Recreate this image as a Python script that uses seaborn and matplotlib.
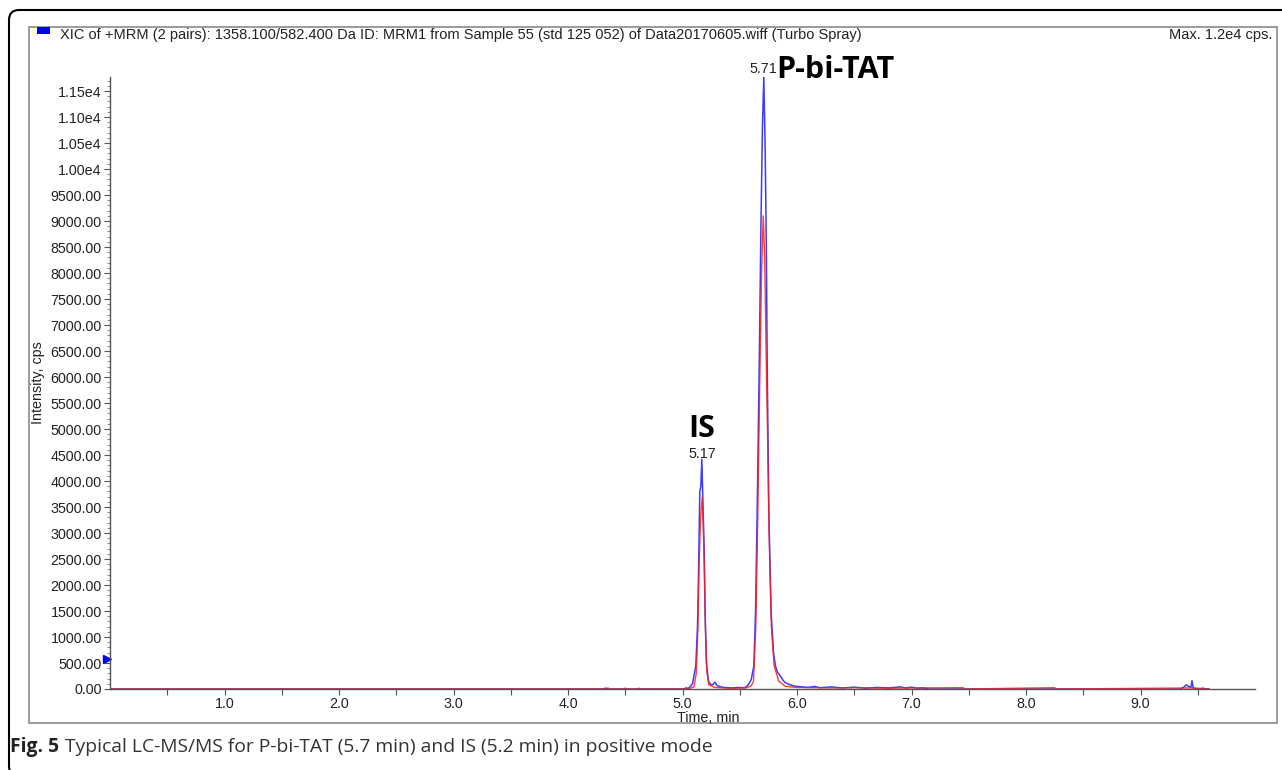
import numpy as np
import pandas as pd
import seaborn as sns
import matplotlib.pyplot as plt
from matplotlib.ticker import MultipleLocator, FuncFormatter, FixedLocator
from matplotlib.patches import Rectangle, FancyBboxPatch
from matplotlib.transforms import IdentityTransform

# XIC trace 1 (blue), time in min / intensity in cps
blue_time = [0.00, 4.30, 4.33, 4.36, 4.60, 4.62, 4.64, 5.00, 5.03, 5.058, 5.087, 5.116,
             5.131, 5.139, 5.151, 5.160, 5.169, 5.177, 5.189, 5.197, 5.209, 5.226, 5.245,
             5.261, 5.284, 5.300, 5.319, 5.36, 5.40, 5.435, 5.48, 5.52, 5.551, 5.580, 5.600,
             5.623, 5.638, 5.652, 5.670, 5.685, 5.698, 5.710, 5.722, 5.732, 5.740, 5.754,
             5.774, 5.795, 5.812, 5.830, 5.855, 5.88, 5.90, 5.94, 5.97, 6.00, 6.05, 6.10,
             6.15, 6.20, 6.30, 6.40, 6.50, 6.60, 6.70, 6.80, 6.90, 6.95, 7.00, 7.05, 7.10,
             7.15, 9.35, 9.38, 9.40, 9.42, 9.44, 9.45, 9.46, 9.50, 9.55, 9.57, 9.60]
blue_int = [0, 0, 15, 0, 0, 12, 0, 0, 10, 20, 100, 440,
            1200, 2100, 3790, 3900, 4420, 3700, 2700, 1480, 500, 150, 90,
            80, 130, 70, 50, 30, 25, 20, 30, 25, 30, 100, 180,
            440, 1480, 3380, 6200, 8900, 10800, 11770, 10400, 8500, 6200, 3400,
            1480, 700, 440, 320, 250, 160, 120, 80, 60, 50, 40, 30,
            50, 25, 40, 20, 35, 15, 30, 20, 40, 20, 35, 15, 20,
            0, 0, 40, 80, 50, 30, 160, 20, 0, 15, 0, 0]

# XIC trace 2 (red)
red_time = [0.00, 4.34, 4.35, 4.36, 4.49, 4.50, 4.51, 5.02, 5.03, 5.05, 5.10, 5.12,
            5.135, 5.145, 5.158, 5.172, 5.182, 5.192, 5.200, 5.212, 5.23, 5.28, 5.40,
            5.55, 5.60, 5.620, 5.640, 5.655, 5.672, 5.690, 5.705, 5.718, 5.730, 5.742,
            5.756, 5.776, 5.800, 5.84, 5.90, 6.00, 6.30, 6.50, 6.80, 7.00, 7.45, 7.47,
            8.25, 8.27, 9.45, 9.60]
red_int = [0, 0, 20, 0, 0, 20, 0, 0, 25, 0, 40, 300,
           1200, 2400, 3300, 3690, 3100, 2200, 1200, 350, 80, 30, 15,
           20, 60, 150, 1200, 3000, 5500, 8000, 9100, 8300, 6500, 5000,
           3000, 1200, 450, 150, 50, 30, 20, 25, 15, 20, 25, 0,
           25, 0, 20, 0]

peak_labels = ["5.17", "5.71"]
peak_names = ["IS", "P-bi-TAT"]

header = ("XIC of +MRM (2 pairs): 1358.100/582.400 Da ID: MRM1 from Sample 55 "
          "(std 125 052) of Data20170605.wiff (Turbo Spray)")

W, H = 1282, 770
sns.set_style("ticks")
plt.rcParams['font.family'] = ['Liberation Sans', 'DejaVu Sans']

fig = plt.figure(figsize=(W / 100, H / 100), dpi=100)
ax = fig.add_axes([110 / W, (H - 689) / H, (1255 - 110) / W, (689 - 77) / H])

df_blue = pd.DataFrame({"t": blue_time, "i": blue_int})
df_red = pd.DataFrame({"t": red_time, "i": red_int})
sns.lineplot(data=df_blue, x="t", y="i", ax=ax, color="#1a1aff", lw=1.1, alpha=0.85,
             sort=False, estimator=None)
sns.lineplot(data=df_red, x="t", y="i", ax=ax, color="#ff1a1a", lw=1.0, alpha=0.85,
             sort=False, estimator=None)

ax.set_xlim(0, 10)
ax.set_ylim(0, 11770)
ax.set_xlabel("")
ax.set_ylabel("")

for s in ["top", "right"]:
    ax.spines[s].set_visible(False)
for s in ["left", "bottom"]:
    ax.spines[s].set_color("#555555")
    ax.spines[s].set_linewidth(1.0)

ax.xaxis.set_major_locator(FixedLocator([1, 2, 3, 4, 5, 6, 7, 8, 9]))
ax.xaxis.set_major_formatter(FuncFormatter(lambda v, p: f"{v:.1f}"))
ax.xaxis.set_minor_locator(FixedLocator([0.5, 1.5, 2.5, 3.5, 4.5, 5.5, 6.5, 7.5, 8.5, 9.5]))
ax.yaxis.set_major_locator(MultipleLocator(500))
ax.yaxis.set_minor_locator(MultipleLocator(100))


def yfmt(v, p):
    if v >= 10000:
        return f"{v / 1e4:.2f}e4"
    return f"{v:.2f}"


ax.yaxis.set_major_formatter(FuncFormatter(yfmt))
ax.tick_params(axis="both", which="major", length=4, width=0.8, color="#555555",
               labelsize=10.3, labelcolor="#222222", pad=2)
ax.tick_params(axis="x", which="minor", length=4, width=0.8, color="#555555")
ax.tick_params(axis="y", which="minor", length=2, width=0.6, color="#777777")

# peak annotations
bold_font = ["Open Sans", "DejaVu Sans"]
ax.text(5.17, 4450, peak_labels[0], ha="center", va="baseline", fontsize=10.3, color="#222222")
ax.text(5.17, 4850, peak_names[0], ha="center", va="baseline", fontsize=22,
        fontweight="bold", family=bold_font, color="black")
ax.text(5.71, 11840, peak_labels[1], ha="center", va="baseline", fontsize=10.3,
        color="#222222", clip_on=False)
ax.text(5.815, 11750, peak_names[1], ha="left", va="baseline", fontsize=22,
        fontweight="bold", family=bold_font, color="black", clip_on=False)

# small blue marker on the y axis
ax.plot(-0.026, 580, marker=">", color="#0000ff", markersize=6, clip_on=False)

# frames
ident = IdentityTransform()
fig.patches.append(FancyBboxPatch((9, -6), 1310, 766, boxstyle="round,pad=0,rounding_size=10",
                                  fill=False, lw=1.5, ec="black", transform=ident))
fig.patches.append(Rectangle((29, H - 723), 1248, 696, fill=False, lw=1.2, ec="#8a8a8a",
                             transform=ident))
fig.patches.append(Rectangle((37, H - 34), 13, 7, fc="#0000ff", ec="none", transform=ident))

fig.text(60 / W, 1 - 35 / H, header, fontsize=10.5, va="center", ha="left", color="#222222")
fig.text(1272 / W, 1 - 35 / H, "Max. 1.2e4 cps.", fontsize=10.5, va="center", ha="right",
         color="#222222")
fig.text(38 / W, 1 - 383 / H, "Intensity, cps", fontsize=10.3, rotation=90, va="center",
         ha="center", color="#222222")
fig.text(708 / W, 1 - 718 / H, "Time, min", fontsize=10.3, va="center", ha="center",
         color="#222222")

# caption
cap_font = ["Open Sans", "DejaVu Sans"]
t1 = fig.text(10 / W, 1 - 747 / H, "Fig. 5", fontsize=13.9, fontweight="bold",
              va="center", ha="left", family=cap_font, color="#222222")
r = fig.canvas.get_renderer()
bb = t1.get_window_extent(renderer=r)
fig.text((bb.x1 + 6) / W, 1 - 747 / H,
         "Typical LC-MS/MS for P-bi-TAT (5.7 min) and IS (5.2 min) in positive mode",
         fontsize=13.9, va="center", ha="left", family=cap_font, color="#333333")

fig.savefig("out.png", dpi=100)
